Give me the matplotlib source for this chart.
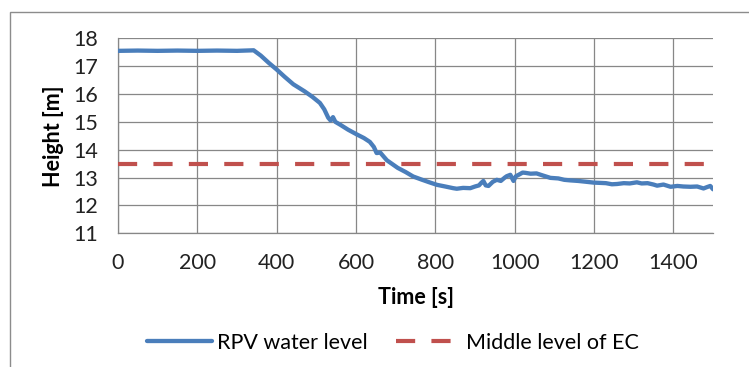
import matplotlib
matplotlib.use("Agg")
import matplotlib.pyplot as plt
from matplotlib.patches import Rectangle

plt.rcParams['font.family'] = ['Lato', 'DejaVu Sans']

# RPV water level
time_s = [0, 50, 100, 150, 200, 250, 300, 342, 360, 380, 400, 420, 442, 470, 490,
          509, 520, 530, 536, 542, 548, 560, 580, 602, 620, 635, 645, 652, 661, 670,
          678, 690, 705, 725, 744, 765, 785, 804, 825, 845, 854, 870, 888, 900, 910,
          915, 921, 927, 934, 945, 955, 965, 975, 980, 989, 997, 1003, 1010, 1020,
          1027, 1040, 1055, 1070, 1090, 1110, 1125, 1140, 1160, 1180, 1199, 1215,
          1230, 1245, 1258, 1275, 1290, 1308, 1320, 1335, 1350, 1359, 1375, 1393,
          1410, 1425, 1443, 1460, 1476, 1485, 1493, 1500]
rpv_level = [17.55, 17.56, 17.55, 17.56, 17.55, 17.56, 17.55, 17.57, 17.38, 17.12,
             16.88, 16.62, 16.35, 16.10, 15.90, 15.68, 15.45, 15.15, 15.05, 15.17,
             15.00, 14.90, 14.72, 14.55, 14.42, 14.28, 14.10, 13.88, 13.90, 13.75,
             13.62, 13.50, 13.35, 13.20, 13.04, 12.93, 12.83, 12.74, 12.68, 12.62,
             12.60, 12.63, 12.62, 12.68, 12.72, 12.80, 12.88, 12.72, 12.70, 12.85,
             12.92, 12.88, 13.00, 13.05, 13.10, 12.88, 13.05, 13.10, 13.18, 13.17,
             13.14, 13.15, 13.08, 12.99, 12.97, 12.92, 12.90, 12.88, 12.85, 12.82,
             12.81, 12.80, 12.76, 12.77, 12.80, 12.79, 12.83, 12.79, 12.80, 12.75,
             12.71, 12.75, 12.67, 12.70, 12.68, 12.67, 12.68, 12.61, 12.66, 12.70,
             12.58]

ec_time = [0, 1500]
ec_level = [13.5, 13.5]

x_ticks = [0, 200, 400, 600, 800, 1000, 1200, 1400]
y_ticks = [11, 12, 13, 14, 15, 16, 17, 18]

grid_col = '#878787'
fs = 15.5

fig = plt.figure(figsize=(7.49, 3.67), dpi=100)
ax = fig.add_axes([0.1575, 0.3643, 0.7945, 0.5313])

# outer chart frame (partly cut off on right and bottom)
fig.patches.append(Rectangle((10 / 749, -0.2), 1.2, 1 - 12.3 / 367 + 0.2,
                             transform=fig.transFigure, fill=False,
                             edgecolor='#8c8c8c', linewidth=1.0, clip_on=False))

ax.plot(time_s, rpv_level, color='#4A7EBB', linewidth=3.1,
        solid_joinstyle='round', solid_capstyle='round', label='RPV water level', zorder=3)
ax.plot(ec_time, ec_level, color='#C0504D', linewidth=3.0, dashes=(4.6, 3.9),
        label='Middle level of EC', zorder=3)

ax.set_xlim(0, 1500)
ax.set_ylim(11, 18)
ax.set_xticks(x_ticks)
ax.set_yticks(y_ticks)
ax.grid(True, color=grid_col, linewidth=0.9)
ax.set_axisbelow(True)
for side in ['top', 'right']:
    ax.spines[side].set_visible(False)
for side in ['left', 'bottom']:
    ax.spines[side].set_color(grid_col)
    ax.spines[side].set_linewidth(0.9)
ax.tick_params(length=0, labelsize=fs, colors='#222222')
ax.tick_params(axis='y', pad=14)
ax.tick_params(axis='x', pad=14)

ax.set_xlabel('Time [s]', fontsize=fs, fontweight='bold', labelpad=10)
ax.set_ylabel('Height [m]', fontsize=fs, fontweight='bold')
ax.yaxis.set_label_coords(-0.091, 0.5)

fig.legend(loc='center', bbox_to_anchor=(393 / 749, 1 - 343 / 367), ncol=2,
           frameon=False, fontsize=fs, handlelength=3.0, columnspacing=1.3,
           handletextpad=0.25)

fig.savefig('out.png', dpi=100)
